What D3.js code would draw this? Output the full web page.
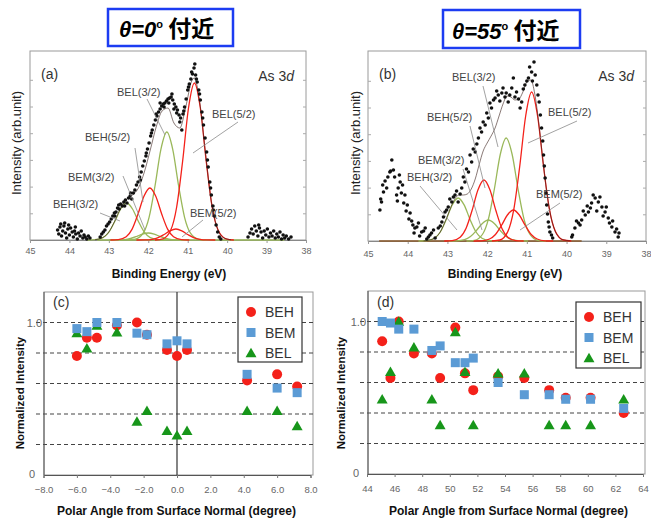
<!DOCTYPE html>
<html><head><meta charset="utf-8">
<script src="https://cdn.jsdelivr.net/npm/d3@7"></script>
<style>body{margin:0;background:#fff}svg{display:block}</style>
</head><body>
<svg id="chart" width="651" height="522"></svg>
<script>
// ---------------- DATA ----------------
const energyTicks = [45, 44, 43, 42, 41, 40, 39, 38];
const panelTitles = ["θ=0", "θ=55"];

// (a) measured As 3d spectrum, near θ = 0°  [binding energy (eV), intensity (arb.)]
const specA = [
[44.30,10],[44.27,6],[44.24,13],[44.22,16],[44.20,4],[44.17,9],[44.14,14],[44.12,17],[44.10,7],[44.07,2],[44.04,11],[44.02,15],[44.00,5],[43.97,12],[43.93,8],[43.90,3],[43.87,9],[43.85,13],[43.84,6],[43.80,1],[43.77,7],[43.73,4],[43.70,9],[43.66,2],[43.63,5],[43.60,3],[43.56,1],[43.52,4],[43.48,2],
[43.22,3],[43.18,6],[43.14,8],[43.10,10],[43.06,14],[43.02,16],[42.98,18],[42.94,21],[42.90,24],[42.86,27],[42.82,28],[42.78,32],[42.74,31],[42.70,36],[42.66,34],[42.62,38],[42.58,40],[42.54,37],[42.50,42],[42.46,44],[42.42,41],[42.38,47],[42.34,50],[42.30,55],[42.26,58],[42.22,63],[42.18,68],[42.14,74],[42.10,79],[42.06,84],[42.02,91],[41.98,97],[41.94,104],[41.90,110],[41.86,115],[41.82,120],[41.78,124],[41.74,128],[41.70,131],[41.66,134],[41.62,136],[41.58,137],[41.54,139],[41.50,141],[41.46,142],[41.42,143],[41.38,140],[41.34,136],[41.30,133],[41.26,130],[41.22,125],[41.18,122],[41.15,110],[41.12,126],[41.08,133],[41.04,141],[41.00,150],[40.96,156],[40.92,161],[40.88,166],[40.84,172],[40.80,165],[40.76,158],[40.72,150],[40.68,140],[40.64,128],[40.60,115],[40.56,102],[40.52,88],[40.48,73],[40.44,58],[40.40,45],[40.36,34],[40.32,24],[40.28,15],[40.24,8],[40.20,3],[40.16,1],
[42.85,24],[42.75,35],[42.60,34],[42.45,47],[42.20,60],[42.05,87],[41.92,107],[41.80,126],[41.70,137],[41.60,133],[41.48,137],[41.40,146],[41.35,131],[41.28,127],[41.20,118],[41.10,129],[40.98,153],[40.90,168],[40.82,176],[40.78,161],[40.70,146],[40.62,122],[40.50,80],[40.42,52],[40.35,30],
[39.47,3],[39.42,7],[39.38,11],[39.34,6],[39.30,14],[39.26,9],[39.22,4],[39.20,15],[39.18,12],[39.14,8],[39.10,2],[39.06,9],[39.02,5],[38.98,11],[38.94,3],[38.90,7],[38.86,4],[38.82,9],[38.78,2],[38.74,6],[38.70,3],[38.66,8],[38.62,1],[38.58,5],[38.54,2],[38.50,4],[38.44,1],[38.38,3]
];

// (a) fitted components
const fitA_BEL52 = [[39.83,0],[40.03,1.1],[40.23,9.9],[40.38,33],[40.53,78.5],[40.68,132],[40.83,157],[40.98,132],[41.13,78.5],[41.28,33],[41.43,9.9],[41.63,1.1],[41.83,0]];
const fitA_BEL32 = [[40.53,0],[40.73,0.8],[40.93,6.8],[41.08,22.7],[41.23,54],[41.38,90.7],[41.53,108],[41.68,90.7],[41.83,54],[41.98,22.7],[42.13,6.8],[42.33,0.8],[42.53,0]];
const fitA_BEH52 = [[40.96,0],[41.16,0.4],[41.36,3.3],[41.51,10.9],[41.66,26],[41.81,43.7],[41.96,52],[42.11,43.7],[42.26,26],[42.41,10.9],[42.56,3.3],[42.76,0.4],[42.96,0]];
const fitA_BEH32 = [[41.55,0],[41.75,0.3],[41.95,2.3],[42.10,7.8],[42.25,18.5],[42.40,31],[42.55,37],[42.70,31],[42.85,18.5],[43.00,7.8],[43.15,2.3],[43.35,0.3],[43.55,0]];
const fitA_BEM52 = [[40.30,0],[40.50,0.1],[40.70,0.7],[40.85,2.3],[41.00,5.5],[41.15,9.2],[41.30,11],[41.45,9.2],[41.60,5.5],[41.75,2.3],[41.90,0.7],[42.10,0.1],[42.30,0]];
const fitA_BEM32 = [[41.00,0],[41.20,0.05],[41.40,0.44],[41.55,1.5],[41.70,3.5],[41.85,5.9],[42.00,7],[42.15,5.9],[42.30,3.5],[42.45,1.5],[42.60,0.44],[42.80,0.05],[43.00,0]];
const fitA_total = [[39.9,0.2],[40.1,2.6],[40.25,12],[40.4,38],[40.55,87],[40.7,139],[40.83,162],[40.9,159],[41.05,133],[41.2,112],[41.35,117],[41.5,132],[41.65,129],[41.8,113],[41.95,90],[42.1,68],[42.25,52],[42.4,45],[42.55,41],[42.7,32],[42.85,19],[43.0,8],[43.15,2.5],[43.35,0.3]];
const baseA = [[43.30,0],[38.55,0]];

// (b) measured As 3d spectrum, near θ = 55°
const specB = [
[44.70,31],[44.66,39],[44.61,49],[44.53,53],[44.45,69],[44.40,81],[44.36,71],[44.28,46],[44.24,53],[44.19,59],[44.13,56],[44.07,46],[44.01,36],[43.94,28],[43.87,16],[43.82,13],[43.73,18],[43.65,9],[43.56,13],[43.48,4],[43.40,8],[43.31,3],[43.23,13],[43.14,19],[43.06,29],[42.98,34],[42.89,39],[42.81,46],[42.73,39],[42.64,53],[42.56,59],[42.47,69],[42.39,79],[42.30,89],[42.22,103],[42.14,109],[42.05,116],[41.97,123],[41.89,133],[41.80,143],[41.72,146],[41.63,148],[41.55,144],[41.47,139],[41.38,153],[41.34,163],[41.26,149],[41.17,133],[41.13,139],[41.05,156],[40.96,163],[40.88,169],[40.82,179],[40.75,156],[40.69,139],[40.63,113],[40.58,86],[40.54,63],[40.50,36],[40.46,19],[40.42,9],[40.35,3],
[44.68,42],[44.63,56],[44.57,60],[44.50,64],[44.43,70],[44.33,64],[44.26,40],[44.21,66],[44.16,48],[44.10,38],[44.04,30],[43.97,22],[43.90,20],[43.84,8],[43.77,14],[43.70,5],[43.60,10],[43.52,2],[43.44,6],[43.35,11],
[43.18,15],[43.10,24],[43.02,31],[42.94,42],[42.85,44],[42.77,50],[42.68,47],[42.60,64],[42.52,72],[42.43,86],[42.35,92],[42.26,97],[42.18,113],[42.10,119],[42.01,128],[41.93,138],[41.84,141],[41.76,150],[41.68,140],[41.60,153],[41.52,148],[41.43,146],[41.30,144],[41.21,142],[41.09,152],[41.00,160],[40.93,174],[40.86,160],[40.79,166],[40.72,146],[40.66,126],[40.60,100],[40.56,75],[40.52,48],[40.48,27],[40.44,14],[40.38,6],
[39.87,4],[39.79,13],[39.70,18],[39.62,21],[39.53,26],[39.45,29],[39.37,38],[39.28,43],[39.20,39],[39.11,34],[39.03,29],[38.95,23],[38.86,14],[38.78,9],[38.70,4],
[39.85,6],[39.75,20],[39.66,16],[39.58,30],[39.48,35],[39.40,33],[39.33,46],[39.24,30],[39.16,44],[39.08,25],[39.00,34],[38.92,18],[38.84,20],[38.74,12],[38.68,8]
];

// (b) fitted components
const fitB_BEL52 = [[39.88,0],[40.08,1.0],[40.28,9.4],[40.43,31.3],[40.58,74.5],[40.73,125],[40.88,149],[41.03,125],[41.18,74.5],[41.33,31.3],[41.48,9.4],[41.68,1.0],[41.88,0]];
const fitB_BEL32 = [[40.52,0],[40.72,0.7],[40.92,6.5],[41.07,21.6],[41.22,51.5],[41.37,86.5],[41.52,103],[41.67,86.5],[41.82,51.5],[41.97,21.6],[42.12,6.5],[42.32,0.7],[42.52,0]];
const fitB_BEH52 = [[41.08,0],[41.28,0.4],[41.48,3.8],[41.63,12.8],[41.78,30.5],[41.93,51.2],[42.08,61],[42.23,51.2],[42.38,30.5],[42.53,12.8],[42.68,3.8],[42.88,0.4],[43.08,0]];
const fitB_BEH32 = [[41.73,0],[41.93,0.3],[42.13,2.7],[42.28,9],[42.43,21.5],[42.58,36.1],[42.73,43],[42.88,36.1],[43.03,21.5],[43.18,9],[43.33,2.7],[43.53,0.3],[43.73,0]];
const fitB_BEM52 = [[40.34,0],[40.54,0.2],[40.74,2],[40.89,6.5],[41.04,15.5],[41.19,26],[41.34,31],[41.49,26],[41.64,15.5],[41.79,6.5],[41.94,2],[42.14,0.2],[42.34,0]];
const fitB_BEM32 = [[40.97,0],[41.17,0.15],[41.37,1.3],[41.52,4.4],[41.67,10.5],[41.82,17.6],[41.97,21],[42.12,17.6],[42.27,10.5],[42.42,4.4],[42.57,1.3],[42.77,0.15],[42.97,0]];
const fitB_total = [[39.9,0.1],[40.1,1.4],[40.2,4.2],[40.3,11.2],[40.4,25.3],[40.5,49],[40.6,82.5],[40.7,118],[40.8,147],[40.9,161],[41.0,159],[41.1,149],[41.2,142],[41.3,141],[41.4,144],[41.5,145],[41.6,137],[41.7,125],[41.8,113],[41.9,105],[42.0,98],[42.1,90],[42.2,76.5],[42.3,62],[42.4,52],[42.5,47],[42.6,46],[42.7,46],[42.8,43],[42.9,35],[43.0,25],[43.2,7.8],[43.4,1.4],[43.6,0.2]];
const baseB = [[44.72,0],[39.62,0]];

// (c) normalized intensity vs polar angle, near 0°
const anglesC = [-6.0, -5.4, -4.8, -3.6, -2.4, -1.8, -0.6, 0.0, 0.6, 4.2, 6.0, 7.2];
const behC = [0.78, 0.90, 0.90, 0.98, 1.00, 0.92, 0.82, 0.78, 0.82, 0.62, 0.66, 0.58];
const bemC = [0.96, 0.94, 1.00, 1.00, 0.93, 0.92, 0.86, 0.88, 0.86, 0.66, 0.57, 0.54];
const belC = [0.93, 0.83, 0.98, 0.935, 0.35, 0.42, 0.29, 0.26, 0.29, 0.42, 0.42, 0.32];
const angleTicksC = [-8, -6, -4, -2, 0, 2, 4, 6, 8];

// (d) normalized intensity vs polar angle, near 55°
const anglesD = [45.1, 45.7, 46.3, 47.4, 48.7, 49.3, 50.4, 51.1, 51.7, 53.5, 55.4, 57.2, 58.4, 60.2, 62.6];
const behD = [0.87, 0.63, 1.00, 0.79, 0.79, 0.63, 0.96, 0.66, 0.55, 0.64, 0.63, 0.55, 0.50, 0.50, 0.40];
const bemD = [1.00, 0.99, 0.95, 0.95, 0.81, 0.84, 0.73, 0.73, 0.76, 0.60, 0.52, 0.52, 0.49, 0.49, 0.43];
const belD = [0.49, 0.67, 1.00, 0.83, 0.49, 0.32, 0.93, 0.67, 0.32, 0.66, 0.66, 0.32, 0.32, 0.32, 0.49];
const angleTicksD = [44, 46, 48, 50, 52, 54, 56, 58, 60, 62, 64];

const seriesNames = ["BEH", "BEM", "BEL"];
const gridLevels = [0.2, 0.4, 0.6, 0.8, 1.0];

// ---------------- STYLE ----------------
const FONT = "'Liberation Sans', Arial, Helvetica, sans-serif";
const RED = "#f4211a", GREEN_FIT = "#9ab85a", BLUE = "#5b9bd5", GREEN = "#17961a";
const svg = d3.select("#chart");
svg.append("rect").attr("width", 651).attr("height", 522).attr("fill", "#fff");

// ---------------- TITLE BOXES ----------------
function titleBox(x, y, w, h, label, tx) {
  svg.append("rect").attr("x", x).attr("y", y).attr("width", w).attr("height", h)
    .attr("fill", "#fff").attr("stroke", "#1c3cf2").attr("stroke-width", 2.5);
  const t = svg.append("text").attr("x", tx).attr("y", y + h - 9)
    .attr("font-family", FONT).attr("font-weight", "bold").attr("font-size", 22).attr("fill", "#000");
  t.append("tspan").attr("font-style", "italic").text(label);
  t.append("tspan").attr("font-size", 11).attr("dy", -9).text("o");
  t.append("tspan").attr("dy", 9).attr("font-family", "'Noto Sans CJK JP', sans-serif").attr("font-size", 23).text(" 付近");
}
titleBox(108, 9, 125, 37, panelTitles[0], 119);
titleBox(443, 10, 137, 38, panelTitles[1], 452);

// ---------------- SPECTRUM PANELS ----------------
function spectrum(cfg) {
  const g = svg.append("g");
  const x = d3.scaleLinear().domain([45, 38]).range([cfg.l, cfg.r]);
  const y = d3.scaleLinear().domain([0, cfg.b - cfg.t]).range([cfg.b, cfg.t]);
  g.append("rect").attr("x", cfg.l).attr("y", cfg.t).attr("width", cfg.r - cfg.l).attr("height", cfg.b - cfg.t)
    .attr("fill", "#fff").attr("stroke", "#9a9a9a").attr("stroke-width", 1);
  const yt = d3.range(1, 7).map(k => k * 26.7);
  g.append("g").attr("transform", `translate(${cfg.r},0)`)
    .call(d3.axisLeft(y).tickValues(yt).tickSize(3).tickFormat(""))
    .call(a => a.select(".domain").remove())
    .call(a => a.selectAll("line").attr("stroke", "#aaa"));
  g.append("g").attr("transform", `translate(${cfg.l},0)`)
    .call(d3.axisRight(y).tickValues(yt).tickSize(3).tickFormat(""))
    .call(a => a.select(".domain").remove())
    .call(a => a.selectAll("line").attr("stroke", "#aaa"));
  const ax = g.append("g").attr("transform", `translate(0,${cfg.b})`)
    .call(d3.axisBottom(x).tickValues(energyTicks).tickSize(3).tickFormat(d3.format("d")));
  ax.select(".domain").attr("stroke", "#888");
  ax.selectAll("line").attr("stroke", "#999");
  ax.selectAll("text").attr("font-family", FONT).attr("font-size", 9).attr("fill", "#666").attr("dy", cfg.tickDy);
  const line = d3.line().x(d => x(d[0])).y(d => y(d[1])).curve(d3.curveMonotoneX);
  const sorted = a => a.slice().sort((p, q) => q[0] - p[0]);
  g.append("path").attr("d", line(sorted(cfg.base))).attr("fill", "none").attr("stroke", cfg.baseColor).attr("stroke-width", 1.6);
  cfg.fits.forEach(f => {
    g.append("path").attr("d", line(sorted(f.pts))).attr("fill", "none").attr("stroke", f.color).attr("stroke-width", 1.3);
  });
  g.append("path").attr("d", line(sorted(cfg.total))).attr("fill", "none").attr("stroke", "#3a1f1a").attr("stroke-width", 1).attr("stroke-opacity", 0.6);
  g.selectAll("circle.pt").data(cfg.data).join("circle").attr("class", "pt")
    .attr("cx", d => x(d[0])).attr("cy", d => y(d[1])).attr("r", 1.8).attr("fill", "#111");
  cfg.labels.forEach(L => {
    g.append("line").attr("x1", L[3]).attr("y1", L[4]).attr("x2", L[5]).attr("y2", L[6])
      .attr("stroke", "#8a8a8a").attr("stroke-width", 0.8);
    g.append("text").attr("x", L[1]).attr("y", L[2]).attr("font-family", FONT).attr("font-size", 11)
      .attr("fill", "#444").text(L[0]);
  });
  g.append("text").attr("x", cfg.l + 11).attr("y", 79).attr("font-family", FONT).attr("font-size", 14).attr("fill", "#333").text(cfg.tag);
  const as = g.append("text").attr("x", cfg.r - 12).attr("y", 81).attr("text-anchor", "end")
    .attr("font-family", FONT).attr("font-size", 14).attr("fill", "#333");
  as.append("tspan").text("As 3");
  as.append("tspan").attr("font-style", "italic").text("d");
  g.append("text").attr("x", (cfg.l + cfg.r) / 2 + cfg.xtOff).attr("y", 278).attr("text-anchor", "middle")
    .attr("font-family", FONT).attr("font-weight", "bold").attr("font-size", 12).attr("fill", "#111").text("Binding Energy (eV)");
  g.append("text").attr("transform", `translate(${cfg.ytX},143) rotate(-90)`).attr("text-anchor", "middle")
    .attr("dominant-baseline", "middle").attr("font-family", FONT).attr("font-size", 13).attr("fill", "#222").text("Intensity (arb.unit)");
}

spectrum({
  l: 30, r: 306, t: 51, b: 240, tickDy: "0.9em", xtOff: 1, ytX: 18, tag: "(a)",
  data: specA, base: baseA, baseColor: GREEN_FIT, total: fitA_total,
  fits: [
    {pts: fitA_BEH32, color: GREEN_FIT}, {pts: fitA_BEM32, color: GREEN_FIT}, {pts: fitA_BEL32, color: GREEN_FIT},
    {pts: fitA_BEH52, color: RED}, {pts: fitA_BEM52, color: RED}, {pts: fitA_BEL52, color: RED}
  ],
  labels: [
    ["BEL(3/2)", 117, 96, 147, 99, 165, 135],
    ["BEH(5/2)", 85, 141, 135, 148, 143, 202],
    ["BEM(3/2)", 68, 181, 123, 176, 145, 230],
    ["BEH(3/2)", 53, 208, 100, 213, 120, 221],
    ["BEL(5/2)", 212, 118, 238, 122, 193, 153],
    ["BEM(5/2)", 190, 217, 203, 220, 182, 237]
  ]
});
spectrum({
  l: 368, r: 646, t: 51, b: 241, tickDy: "1.15em", xtOff: -2, ytX: 357, tag: "(b)",
  data: specB, base: baseB, baseColor: "#8b5a2b", total: fitB_total,
  fits: [
    {pts: fitB_BEH32, color: GREEN_FIT}, {pts: fitB_BEM32, color: GREEN_FIT}, {pts: fitB_BEL32, color: GREEN_FIT},
    {pts: fitB_BEH52, color: RED}, {pts: fitB_BEM52, color: RED}, {pts: fitB_BEL52, color: RED}
  ],
  labels: [
    ["BEL(3/2)", 452, 81, 483, 86, 498, 147],
    ["BEH(5/2)", 427, 121, 470, 126, 485, 188],
    ["BEM(3/2)", 418, 164, 463, 169, 482, 230],
    ["BEH(3/2)", 407, 181, 420, 186, 457, 230],
    ["BEL(5/2)", 548, 116, 577, 121, 528, 143],
    ["BEM(5/2)", 536, 198, 560, 203, 520, 230]
  ]
});

// ---------------- ANGULAR PANELS ----------------
function angular(cfg) {
  const g = svg.append("g");
  const x = d3.scaleLinear().domain(cfg.dom).range([cfg.x0, cfg.x1]);
  const y = d3.scaleLinear().domain([0, 1.2]).range([cfg.b, cfg.b - 1.2 * 152.5]);
  const top = y(1.2);
  g.append("rect").attr("x", cfg.l).attr("y", top).attr("width", cfg.r - cfg.l).attr("height", cfg.b - top)
    .attr("fill", "#fff").attr("stroke", "#999");
  g.append("g").selectAll("line").data(gridLevels).join("line")
    .attr("x1", cfg.l - 8).attr("x2", cfg.r).attr("y1", d => y(d)).attr("y2", d => y(d))
    .attr("stroke", "#444").attr("stroke-width", 1.2).attr("stroke-dasharray", "4,3");
  const ax = g.append("g").attr("transform", `translate(0,${cfg.b})`)
    .call(d3.axisBottom(x).tickValues(cfg.ticks).tickSize(3).tickFormat(cfg.fmt));
  ax.select(".domain").attr("stroke", "#555");
  ax.selectAll("line").attr("stroke", "#777");
  ax.selectAll("text").attr("font-family", FONT).attr("font-size", 9.5).attr("fill", "#666").attr("dy", "1.25em");
  g.append("line").attr("x1", cfg.l).attr("x2", cfg.l).attr("y1", top).attr("y2", cfg.b).attr("stroke", "#555");
  g.append("text").attr("x", cfg.l - 2).attr("y", y(1.0) + 4).attr("text-anchor", "end")
    .attr("font-family", FONT).attr("font-size", 11).attr("fill", "#666").text("1.0");
  g.append("text").attr("x", cfg.l - 9).attr("y", y(0) + 3).attr("text-anchor", "end")
    .attr("font-family", FONT).attr("font-size", 11).attr("fill", "#666").text("0");
  if (cfg.zeroLine) {
    g.append("line").attr("x1", x(0)).attr("x2", x(0)).attr("y1", top).attr("y2", cfg.b).attr("stroke", "#333").attr("stroke-width", 1.2);
  }
  const tri = d3.symbol().type(d3.symbolTriangle).size(52);
  g.append("g").selectAll("circle").data(cfg.angles).join("circle")
    .attr("cx", d => x(d)).attr("cy", (d, i) => y(cfg.beh[i])).attr("r", 5).attr("fill", RED);
  g.append("g").selectAll("path").data(cfg.angles).join("path")
    .attr("d", tri).attr("transform", (d, i) => `translate(${x(d)},${y(cfg.bel[i]) + 1})`).attr("fill", GREEN);
  g.append("g").selectAll("rect").data(cfg.angles).join("rect")
    .attr("x", d => x(d) - 4.5).attr("y", (d, i) => y(cfg.bem[i]) - 4.5).attr("width", 9).attr("height", 9).attr("fill", BLUE);
  const lg = g.append("g");
  lg.append("rect").attr("x", cfg.lg[0]).attr("y", cfg.lg[1]).attr("width", cfg.lg[2]).attr("height", cfg.lg[3])
    .attr("fill", "#fff").attr("stroke", "#333").attr("stroke-width", 1.2);
  seriesNames.forEach((s, i) => {
    const cy = cfg.lg[1] + 15 + i * 20.5, mx = cfg.lg[0] + 13;
    if (i === 0) lg.append("circle").attr("cx", mx).attr("cy", cy).attr("r", 5).attr("fill", RED);
    if (i === 1) lg.append("rect").attr("x", mx - 4.5).attr("y", cy - 4.5).attr("width", 9).attr("height", 9).attr("fill", BLUE);
    if (i === 2) lg.append("path").attr("d", tri).attr("transform", `translate(${mx},${cy + 1})`).attr("fill", GREEN);
    lg.append("text").attr("x", mx + 14).attr("y", cy + 5).attr("font-family", FONT).attr("font-size", 14)
      .attr("fill", "#333").text(s);
  });
  g.append("text").attr("x", cfg.l + 9).attr("y", 307).attr("font-family", FONT).attr("font-size", 14).attr("fill", "#333").text(cfg.tag);
  g.append("text").attr("x", (cfg.l + cfg.r) / 2 + cfg.xtOff).attr("y", 515).attr("text-anchor", "middle")
    .attr("font-family", FONT).attr("font-weight", "bold").attr("font-size", 12).attr("fill", "#111")
    .text("Polar Angle from Surface Normal (degree)");
  g.append("text").attr("transform", `translate(${cfg.ytX},393) rotate(-90)`).attr("text-anchor", "middle")
    .attr("dominant-baseline", "middle").attr("font-family", FONT).attr("font-weight", "bold").attr("font-size", 11.5)
    .attr("fill", "#111").text("Normalized Intensity");
}

angular({
  l: 44, r: 313, b: 475, x0: 43.5, x1: 310.5, dom: [-8, 8], ticks: angleTicksC, fmt: d3.format(".1f"),
  angles: anglesC, beh: behC, bem: bemC, bel: belC, zeroLine: true, tag: "(c)", xtOff: -2, ytX: 21,
  lg: [238, 297, 64, 65]
});
angular({
  l: 368, r: 645, b: 474, x0: 367, x1: 643, dom: [44, 64], ticks: angleTicksD, fmt: d3.format("d"),
  angles: anglesD, beh: behD, bem: bemD, bel: belD, zeroLine: false, tag: "(d)", xtOff: 2, ytX: 342,
  lg: [576, 302, 65, 66]
});
</script>
</body></html>
